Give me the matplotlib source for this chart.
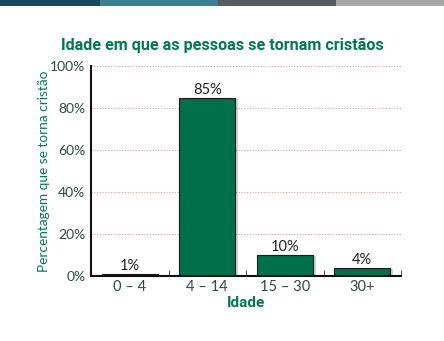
import matplotlib
matplotlib.use("Agg")
import matplotlib.pyplot as plt
import matplotlib.patches as mpatches

categories = ["0 – 4", "4 – 14", "15 – 30", "30+"]
values = [1, 85, 10, 4]
value_labels = ["1%", "85%", "10%", "4%"]
yticks = [0, 20, 40, 60, 80, 100]
ytick_labels = ["0%", "20%", "40%", "60%", "80%", "100%"]

plt.rcParams["font.family"] = ["Lato", "DejaVu Sans"]
green = "#007a4d"
bar_green = "#00704a"
title_font = ["Roboto", "DejaVu Sans"]

fig = plt.figure(figsize=(4.44, 3.41), dpi=100)
fig.patch.set_facecolor("white")

# top colour strips
strips = [(0, 100, "#1c4760"), (100, 218, "#3d7f8f"), (218, 336, "#575b5d"), (336, 444, "#a6a6a6")]
for x0, x1, c in strips:
    fig.add_artist(mpatches.Rectangle((x0 / 444, 1 - 6 / 341), (x1 - x0) / 444, 6 / 341,
                                      transform=fig.transFigure, color=c, lw=0))

ax = fig.add_axes([91 / 444, 1 - 276 / 341, 310 / 444, 210 / 341])
x = list(range(len(categories)))

# shadows
for xi, v in zip(x, values):
    ax.add_patch(mpatches.Rectangle((xi - 0.36 + 0.04, -0.5), 0.72, v, facecolor="#000000",
                                    alpha=0.18, lw=0, zorder=1))
ax.bar(x, values, width=0.72, color=bar_green, edgecolor="#1a1a1a", linewidth=0.8, zorder=2)
for xi, v, lab in zip(x, values, value_labels):
    ax.text(xi, v + 0.4, lab, ha="center", va="bottom", fontsize=10.5, color="#222222", zorder=3)

ax.set_xlim(-0.5, 3.5)
ax.set_ylim(0, 100)
ax.set_yticks(yticks)
ax.set_yticklabels(ytick_labels, fontsize=10, color="#2e4a40")
ax.set_xticks(x)
ax.set_xticklabels(categories, fontsize=10.5, color="#2e4a40")
ax.tick_params(axis="x", length=0, pad=3)
ax.tick_params(axis="y", length=0, pad=4)
ax.set_xticks([0.5, 1.5, 2.5, 3.5], minor=True)
ax.tick_params(axis="x", which="minor", direction="in", length=4, color="#333333")

for y in yticks[1:]:
    ax.axhline(y, color="#d9a3a3", linestyle=(0, (1, 1.5)), linewidth=0.8, zorder=0)

for s in ["top", "right"]:
    ax.spines[s].set_visible(False)
ax.spines["left"].set_linewidth(1.5)
ax.spines["bottom"].set_linewidth(1.5)
ax.spines["left"].set_color("#111111")
ax.spines["bottom"].set_color("#111111")

ax.set_ylabel("Percentagem que se torna cristão", fontsize=9.8, color=green, labelpad=0)
ax.set_xlabel("Idade", fontsize=11, color=green, fontweight="bold", family=title_font, labelpad=1)

fig.text(0.5, 1 - 45 / 341, "Idade em que as pessoas se tornam cristãos", ha="center", va="center",
         fontsize=11.6, fontweight="bold", color=green, family=title_font)

fig.savefig("out.png", dpi=100)
